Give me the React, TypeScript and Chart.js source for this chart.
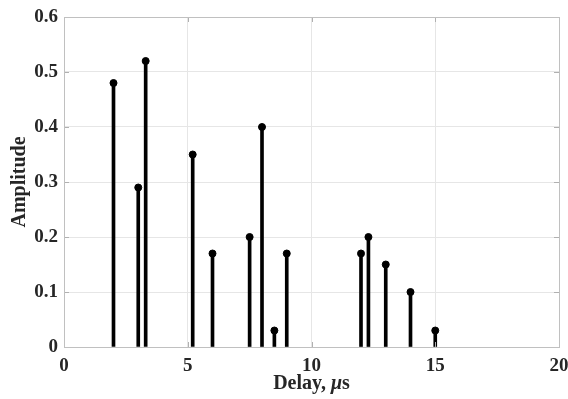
import React, { useEffect, useRef } from "react";
import { Chart, registerables } from "chart.js";

Chart.register(...registerables);

const delays = [2, 3, 3.3, 5.2, 6, 7.5, 8, 8.5, 9, 12, 12.3, 13, 14, 15];
const amplitudes = [0.48, 0.29, 0.52, 0.35, 0.17, 0.2, 0.4, 0.03, 0.17, 0.17, 0.2, 0.15, 0.1, 0.03];
const xTicks = [0, 5, 10, 15, 20];
const yTicks = [0, 0.1, 0.2, 0.3, 0.4, 0.5, 0.6];
const xTitleParts = [
  { text: "Delay, ", italic: false },
  { text: "μ", italic: true },
  { text: "s", italic: false },
];
const yTitle = "Amplitude";

const FONT = "'Liberation Serif', 'Times New Roman', serif";
const TEXT = "#262626";

const frameAndTitles = {
  id: "frameAndTitles",
  afterDraw(chart: any) {
    const { ctx, chartArea: a } = chart;
    ctx.save();
    ctx.strokeStyle = "#b0b0b0";
    ctx.lineWidth = 1;
    const xs = chart.scales.x;
    const ys = chart.scales.y;
    ctx.beginPath();
    xTicks.forEach((t) => {
      const px = Math.round(xs.getPixelForValue(t)) + 0.5;
      ctx.moveTo(px, a.bottom);
      ctx.lineTo(px, a.bottom - 5);
      ctx.moveTo(px, a.top);
      ctx.lineTo(px, a.top + 5);
    });
    yTicks.forEach((t) => {
      const py = Math.round(ys.getPixelForValue(t)) + 0.5;
      ctx.moveTo(a.left, py);
      ctx.lineTo(a.left + 5, py);
      ctx.moveTo(a.right, py);
      ctx.lineTo(a.right - 5, py);
    });
    ctx.stroke();
    ctx.strokeStyle = "#c0c0c0";
    ctx.strokeRect(Math.round(a.left) + 0.5, Math.round(a.top) + 0.5, Math.round(a.right - a.left), Math.round(a.bottom - a.top));

    ctx.fillStyle = TEXT;
    ctx.textBaseline = "middle";
    const fonts = xTitleParts.map((p) => `${p.italic ? "italic " : ""}bold 20px ${FONT}`);
    let total = 0;
    const widths = xTitleParts.map((p, i) => {
      ctx.font = fonts[i];
      const w = ctx.measureText(p.text).width;
      total += w;
      return w;
    });
    let x = (a.left + a.right) / 2 - total / 2;
    const y = 384;
    xTitleParts.forEach((p, i) => {
      ctx.font = fonts[i];
      ctx.textAlign = "left";
      ctx.fillText(p.text, x, y);
      x += widths[i];
    });

    ctx.translate(20, (a.top + a.bottom) / 2);
    ctx.rotate(-Math.PI / 2);
    ctx.font = `bold 20px ${FONT}`;
    ctx.textAlign = "center";
    ctx.fillText(yTitle, 0, 0);
    ctx.restore();
  },
};

export default function App() {
  const ref = useRef<HTMLCanvasElement>(null);
  useEffect(() => {
    const points = delays.map((d, i) => ({ x: d, y: amplitudes[i] }));
    const chart = new Chart(ref.current!, {
      type: "bar",
      data: {
        datasets: [
          {
            type: "bar",
            data: points,
            backgroundColor: "#000000",
            barThickness: 3,
            borderWidth: 0,
            order: 2,
          } as any,
          {
            type: "scatter",
            data: points,
            backgroundColor: "#000000",
            borderColor: "#000000",
            pointRadius: 3.5,
            pointHoverRadius: 3.5,
            order: 1,
          } as any,
        ],
      },
      options: {
        animation: false,
        responsive: false,
        events: [],
        layout: { padding: { left: 0, right: 9, top: 17, bottom: 0 } },
        plugins: { legend: { display: false }, tooltip: { enabled: false } },
        scales: {
          x: {
            type: "linear",
            min: 0,
            max: 20,
            offset: false,
            afterBuildTicks: (s: any) => {
              s.ticks = xTicks.map((v) => ({ value: v }));
            },
            afterFit: (s: any) => {
              s.height = 52;
              s.paddingLeft = 0;
              s.paddingRight = 0;
            },
            grid: { color: "#e6e6e6", drawTicks: false, offset: false },
            border: { display: false },
            ticks: {
              color: TEXT,
              font: { family: FONT, size: 19, weight: "bold" },
              padding: 8,
              maxRotation: 0,
            },
          },
          y: {
            type: "linear",
            min: 0,
            max: 0.6,
            afterBuildTicks: (s: any) => {
              s.ticks = yTicks.map((v) => ({ value: v }));
            },
            afterFit: (s: any) => {
              s.width = 64;
              s.paddingTop = 0;
              s.paddingBottom = 0;
            },
            grid: { color: "#e6e6e6", drawTicks: false },
            border: { display: false },
            ticks: {
              color: TEXT,
              font: { family: FONT, size: 19, weight: "bold" },
              padding: 6,
              callback: (v: any) => (v === 0 ? "0" : Number(v).toFixed(1)),
            },
          },
        },
      },
      plugins: [frameAndTitles],
    });
    return () => chart.destroy();
  }, []);
  return (
    <div style={{ position: "fixed", left: 0, top: 0, width: 568, height: 399, background: "#fff" }}>
      <canvas ref={ref} width={568} height={399} style={{ width: 568, height: 399 }} />
    </div>
  );
}
